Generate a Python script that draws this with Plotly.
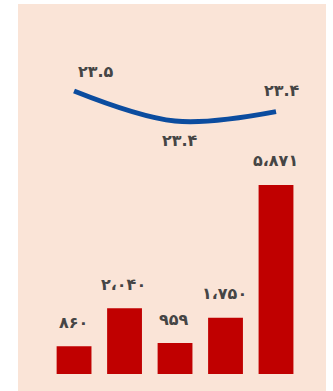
import plotly.graph_objects as go

# ---- data ----
categories = ["A", "B", "C", "D", "E"]
bar_values = [860, 2040, 959, 1750, 5871]
line_x_index = [0, 2, 4]
line_values = [23.52, 23.36, 23.41]

# ---- helpers ----
FA = str.maketrans("0123456789,", "۰۱۲۳۴۵۶۷۸۹،")

def fa_int(v):
    return f"{v:,}".translate(FA)

def fa_dec(v):
    return f"{v:.1f}".translate(FA)

# ---- style ----
peach = "#FAE4D7"
bar_color = "#C00000"
line_color = "#0B4C9F"
text_color = "#454545"
font_family = "DejaVu Sans"
line_label_shift = [(22, 20), (5, -19), (6, 21)]

xs = list(range(len(categories)))

fig = go.Figure()
fig.add_trace(go.Bar(
    x=xs, y=bar_values, width=0.69,
    marker=dict(color=bar_color, line=dict(width=0)),
    yaxis="y", hoverinfo="skip",
))
fig.add_trace(go.Scatter(
    x=line_x_index, y=line_values, mode="lines",
    line=dict(color=line_color, width=5, shape="spline", smoothing=1.0),
    yaxis="y2", hoverinfo="skip",
))

annotations = []
for x, v in zip(xs, bar_values):
    annotations.append(dict(
        x=x, y=v, xref="x", yref="y", text="<b>" + fa_int(v) + "</b>", showarrow=False,
        yanchor="middle", xanchor="center", yshift=24, xshift=-1,
        font=dict(family=font_family, size=16, color=text_color),
    ))
for x, v, (dx, dy) in zip(line_x_index, line_values, line_label_shift):
    annotations.append(dict(
        x=x, y=v, xref="x", yref="y2", text="<b>" + fa_dec(v) + "</b>",
        showarrow=False, yanchor="middle", xanchor="center", xshift=dx, yshift=dy,
        font=dict(family=font_family, size=16, color=text_color),
    ))

fig.update_layout(
    width=333, height=391,
    margin=dict(l=18, r=7, t=4, b=0),
    paper_bgcolor="white", plot_bgcolor=peach,
    showlegend=False,
    xaxis=dict(range=[-1.11, 4.99], visible=False, fixedrange=True),
    yaxis=dict(range=[-528, 11491], visible=False, fixedrange=True),
    yaxis2=dict(range=[21.92, 23.984], overlaying="y", visible=False, fixedrange=True),
    annotations=annotations,
)

fig.write_html("out.html", config={"displayModeBar": False})
